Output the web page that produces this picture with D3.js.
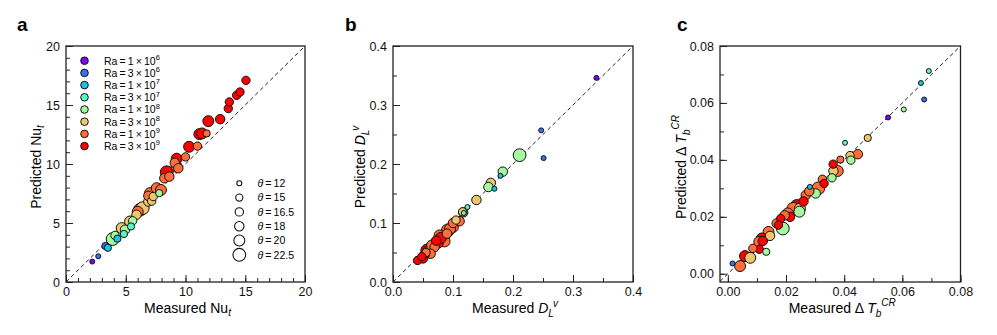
<!DOCTYPE html>
<html>
<head>
<meta charset="utf-8">
<script src="https://cdn.jsdelivr.net/npm/d3@7"></script>
<style>
  body { margin: 0; background: #fff; }
  text { font-family: "Liberation Sans", Arial, Helvetica, sans-serif; }
</style>
</head>
<body>
<svg id="chart" width="997" height="335"></svg>
<script>
// Ra legend: mantissa, exponent and colour for each Rayleigh number
const raMant = ["1", "3", "1", "3", "1", "3", "1", "3"];
const raExp = ["6", "6", "7", "7", "8", "8", "9", "9"];
const raColors = ["#8000ff", "#3770f8", "#12c7e6", "#5bf8c7", "#a4f89f", "#edc76e", "#ff6e39", "#ff0000"];

// theta values (marker size)
const thetas = [12, 15, 16.5, 18, 20, 22.5];
const thetaLabels = ["12", "15", "16.5", "18", "20", "22.5"];

// rows: [measured, predicted, Ra index, theta index]
const nuPoints = [
  [2.2, 1.73, 0, 0], [2.7, 2.18, 1, 0], [3.3, 3.05, 1, 1], [3.5, 2.9, 2, 1],
  [4.1, 3.95, 4, 2], [3.9, 3.64, 4, 5], [4.3, 3.67, 2, 1], [4.66, 4.57, 5, 4],
  [4.85, 4.07, 3, 1], [4.94, 4.43, 4, 3], [5.36, 5.13, 5, 4], [5.44, 4.71, 3, 1],
  [5.58, 5.19, 4, 2], [5.9, 5.7, 5, 3], [6.0, 5.95, 6, 4], [6.19, 6.12, 6, 5],
  [6.42, 6.26, 5, 5], [6.89, 6.82, 5, 3], [7.17, 6.85, 5, 2], [6.89, 7.3, 6, 3],
  [7.03, 7.53, 6, 4], [7.3, 7.24, 5, 2], [7.8, 7.53, 4, 1], [7.59, 7.95, 6, 4],
  [7.95, 7.8, 6, 4], [8.23, 8.79, 6, 3], [8.65, 8.93, 6, 3], [8.43, 9.3, 7, 5],
  [9.1, 10.1, 6, 3], [9.26, 9.77, 6, 4], [9.4, 9.64, 6, 3], [9.26, 10.45, 7, 4],
  [10.0, 10.6, 6, 2], [10.3, 11.46, 7, 4], [11.0, 11.52, 6, 2], [11.16, 12.53, 7, 4],
  [11.38, 12.59, 7, 4], [11.77, 12.59, 6, 1], [11.91, 13.63, 7, 4], [12.9, 13.8, 7, 3],
  [13.58, 14.7, 7, 2], [13.67, 15.26, 7, 2], [14.28, 15.82, 7, 2], [14.56, 16.1, 7, 2],
  [15.06, 17.09, 7, 2]
];

const dlPoints = [
  [0.339, 0.346, 0, 0], [0.247, 0.257, 1, 0], [0.251, 0.210, 1, 0], [0.211, 0.215, 4, 5],
  [0.183, 0.187, 4, 3], [0.179, 0.180, 2, 0], [0.163, 0.168, 5, 3], [0.159, 0.161, 4, 3],
  [0.169, 0.158, 2, 0], [0.139, 0.139, 5, 3], [0.124, 0.127, 3, 0], [0.117, 0.118, 6, 3],
  [0.116, 0.119, 5, 2], [0.118, 0.117, 3, 0], [0.105, 0.105, 5, 2], [0.111, 0.103, 6, 3],
  [0.0998, 0.093, 6, 4], [0.0915, 0.0876, 6, 5], [0.0776, 0.079, 6, 4], [0.0832, 0.0762, 7, 5],
  [0.086, 0.0688, 6, 4], [0.0749, 0.0666, 7, 4], [0.0693, 0.0591, 6, 3], [0.0627, 0.0478, 6, 3],
  [0.058, 0.0518, 7, 4], [0.0527, 0.0461, 7, 3], [0.05, 0.040, 7, 3], [0.0410, 0.0365, 7, 2],
  [0.065, 0.062, 6, 4], [0.072, 0.07, 7, 3], [0.055, 0.05, 6, 2], [0.048, 0.043, 7, 2],
  [0.09, 0.082, 6, 3], [0.095, 0.09, 6, 4], [0.1, 0.1, 6, 3], [0.08, 0.075, 7, 4],
  [0.057, 0.0535, 7, 5]
];

const dtPoints = [
  [0.0691, 0.0712, 3, 0], [0.0664, 0.0670, 2, 0], [0.0675, 0.0612, 1, 0], [0.0605, 0.0577, 4, 0],
  [0.0551, 0.0549, 0, 0], [0.0481, 0.0477, 5, 1], [0.0403, 0.0460, 3, 0], [0.0447, 0.0420, 6, 3],
  [0.0420, 0.0415, 5, 2], [0.0423, 0.0399, 4, 2], [0.0387, 0.0401, 6, 1], [0.0362, 0.0385, 7, 2],
  [0.0378, 0.0361, 6, 4], [0.0363, 0.0361, 5, 3], [0.0358, 0.0337, 4, 2], [0.0325, 0.0332, 6, 2],
  [0.0331, 0.0317, 7, 2], [0.0311, 0.0300, 6, 5], [0.0302, 0.0282, 4, 3], [0.0282, 0.0305, 2, 0],
  [0.0268, 0.0276, 6, 3], [0.0260, 0.0254, 7, 3], [0.0237, 0.0238, 7, 5], [0.0248, 0.0229, 5, 4],
  [0.0246, 0.0218, 4, 4], [0.0206, 0.0212, 6, 4], [0.0214, 0.0200, 7, 3], [0.0182, 0.0194, 7, 2],
  [0.0168, 0.0177, 6, 3], [0.0174, 0.0171, 7, 2], [0.0189, 0.0159, 4, 5], [0.0140, 0.0147, 6, 4],
  [0.0145, 0.0133, 5, 3], [0.0117, 0.0124, 7, 4], [0.0108, 0.0112, 6, 4], [0.0108, 0.0086, 7, 2],
  [0.0132, 0.0077, 4, 1], [0.0086, 0.0089, 6, 2], [0.0059, 0.0062, 7, 4], [0.0077, 0.0056, 5, 4],
  [0.0042, 0.0027, 6, 4], [0.0016, 0.0036, 1, 0], [0.0120, 0.0115, 7, 3], [0.0195, 0.0205, 6, 3],
  [0.0225, 0.0228, 6, 5], [0.0280, 0.0290, 6, 3]
];

const svg = d3.select("#chart");
const color = d3.scaleOrdinal().domain(d3.range(8)).range(raColors);
const radius = d3.scaleLinear().domain([12, 22.5]).range([2.5, 6.4]);

const panels = [
  { letter: "a", left: 66, width: 239, domain: [0, 20], major: d3.range(0, 21, 5), minor: d3.range(0, 21, 1),
    fmt: d3.format("d"), data: nuPoints, title: "nu", letterX: 17, titleY: 41 },
  { letter: "b", left: 393, width: 240, domain: [0, 0.4], major: d3.range(0, 0.41, 0.1), minor: d3.range(0, 0.41, 0.05),
    fmt: d3.format(".1f"), data: dlPoints, title: "dl", letterX: 345, titleY: 365 },
  { letter: "c", left: 720, width: 240.5, domain: [-0.0027, 0.08], major: d3.range(0, 0.081, 0.02), minor: d3.range(0, 0.081, 0.01),
    fmt: d3.format(".2f"), data: dtPoints, title: "dt", letterX: 677, titleY: 686 }
];

const plotTop = 46, plotH = 236;

panels.forEach(p => {
  const ydom = p.letter === "c" ? [-0.0029, 0.08] : p.domain;
  const x = d3.scaleLinear().domain(p.domain).range([p.left, p.left + p.width]);
  const y = d3.scaleLinear().domain(ydom).range([plotTop + plotH, plotTop]);

  // panel letter
  svg.append("text").attr("x", p.letterX).attr("y", 31)
    .attr("font-size", 19).attr("font-weight", "bold").text(p.letter);

  // minor + major ticks, pointing inward
  const gx = svg.append("g").attr("transform", `translate(0,${plotTop + plotH})`);
  gx.call(d3.axisBottom(x).tickValues(p.minor).tickSize(-4).tickFormat(""));
  gx.append("g").call(d3.axisBottom(x).tickValues(p.major).tickSize(-7).tickPadding(5).tickFormat(p.fmt));
  const gy = svg.append("g").attr("transform", `translate(${p.left},0)`);
  gy.call(d3.axisLeft(y).tickValues(p.minor).tickSize(-4).tickFormat(""));
  gy.append("g").call(d3.axisLeft(y).tickValues(p.major).tickSize(-7).tickPadding(6).tickFormat(p.fmt));
  svg.selectAll(".domain").remove();
  svg.selectAll(".tick line").attr("stroke", "#222");
  svg.selectAll(".tick text").attr("font-size", 12.5).attr("fill", "#111")
    .attr("font-family", "'Liberation Sans', Arial, sans-serif");

  // y = x reference
  const lo = Math.max(p.domain[0], ydom[0]);
  svg.append("line")
    .attr("x1", x(lo)).attr("y1", y(lo))
    .attr("x2", x(p.domain[1])).attr("y2", y(p.domain[1]))
    .attr("stroke", "#222").attr("stroke-width", 1).attr("stroke-dasharray", "4,3");

  // points: big ones first so small ones stay visible
  const pts = p.data.slice().sort((a, b) => b[3] - a[3]);
  svg.append("g").selectAll("circle").data(pts).enter().append("circle")
    .attr("cx", d => x(d[0])).attr("cy", d => y(d[1]))
    .attr("r", d => radius(thetas[d[3]]))
    .attr("fill", d => color(d[2]))
    .attr("stroke", "#111").attr("stroke-width", 1);

  // frame
  svg.append("rect").attr("x", p.left).attr("y", plotTop).attr("width", p.width).attr("height", plotH)
    .attr("fill", "none").attr("stroke", "#222").attr("stroke-width", 1.3);

  // axis titles
  const cx = p.left + p.width / 2 + 2;
  const xt = svg.append("text").attr("x", cx).attr("y", 313).attr("text-anchor", "middle").attr("font-size", 14);
  const yt = svg.append("text").attr("transform", `translate(${p.titleY},${plotTop + plotH / 2 + 3}) rotate(-90)`)
    .attr("text-anchor", "middle").attr("font-size", 14);
  [[xt, "Measured "], [yt, "Predicted "]].forEach(([t, word]) => {
    if (p.title === "nu") {
      t.append("tspan").text(word + "Nu");
      t.append("tspan").attr("font-style", "italic").attr("font-size", 10).attr("dy", 3).text("t");
    } else if (p.title === "dl") {
      t.append("tspan").text(word);
      t.append("tspan").attr("font-style", "italic").text("D");
      t.append("tspan").attr("font-style", "italic").attr("font-size", 10).attr("dy", 4).text("L");
      t.append("tspan").attr("font-style", "italic").attr("font-size", 10).attr("dy", -10).attr("dx", -1).text("v");
    } else {
      t.append("tspan").text(word + "\u0394");
      t.append("tspan").attr("font-style", "italic").attr("dx", 3).text("T");
      t.append("tspan").attr("font-style", "italic").attr("font-size", 10).attr("dy", 4).text("b");
      t.append("tspan").attr("font-style", "italic").attr("font-size", 10).attr("dy", -11).attr("dx", 0).text("CR");
    }
  });
});

// Ra legend (panel a)
const raLeg = svg.append("g");
raMant.forEach((m, i) => {
  const yy = 60.7 + i * 12.2;
  raLeg.append("circle").attr("cx", 84.5).attr("cy", yy).attr("r", 3.8)
    .attr("fill", raColors[i]).attr("stroke", "#111").attr("stroke-width", 1);
  const t = raLeg.append("text").attr("x", 104).attr("y", yy + 3.8).attr("font-size", 10.5);
  t.append("tspan").text("Ra\u2009=\u2009" + m + "\u2009\u00d7\u200910");
  t.append("tspan").attr("font-size", 7.5).attr("dy", -4.5).text(raExp[i]);
});

// theta legend (panel a)
const thLeg = svg.append("g");
thetas.forEach((th, i) => {
  const yy = 183.3 + i * 14.3;
  thLeg.append("circle").attr("cx", 239.3).attr("cy", yy).attr("r", radius(th))
    .attr("fill", "none").attr("stroke", "#111").attr("stroke-width", 1.1);
  const t = thLeg.append("text").attr("x", 257.5).attr("y", yy + 3.8).attr("font-size", 10.5);
  t.append("tspan").attr("font-style", "italic").text("\u03b8");
  t.append("tspan").text("\u2009=\u2009" + thetaLabels[i]);
});
</script>
</body>
</html>
